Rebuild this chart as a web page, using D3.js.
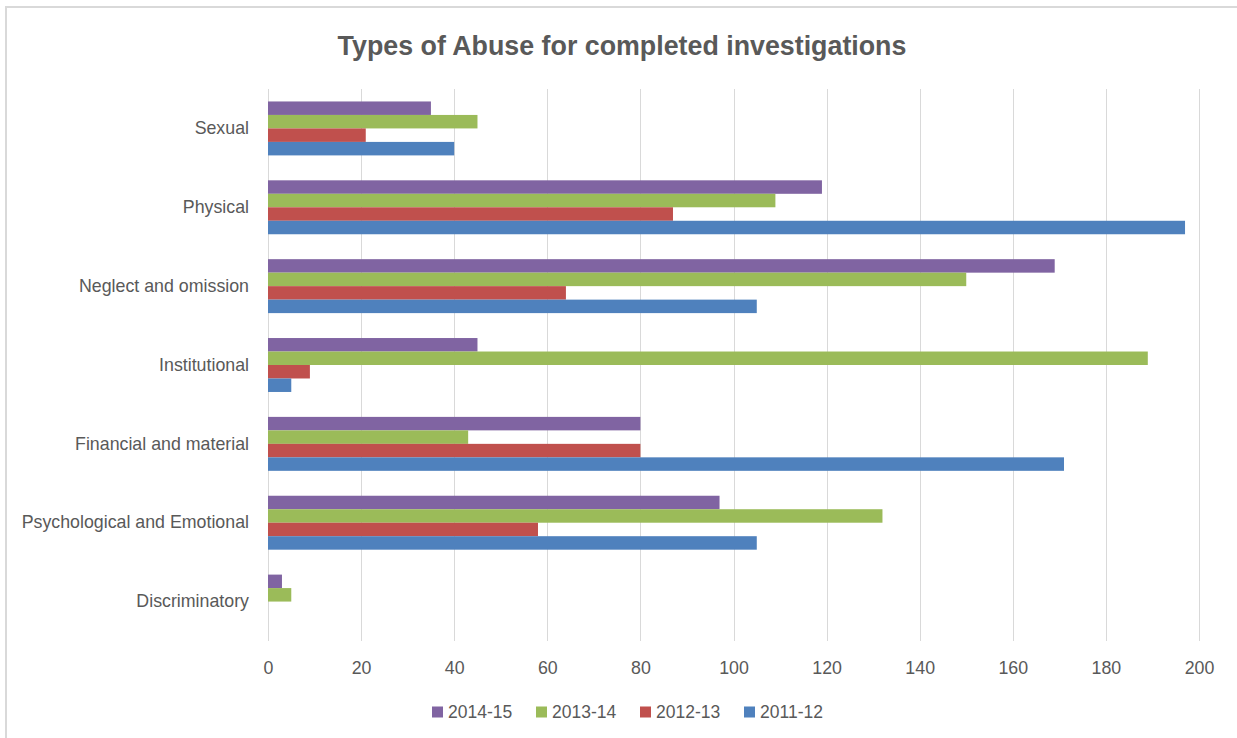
<!DOCTYPE html>
<html>
<head>
<meta charset="utf-8">
<script src="https://cdn.jsdelivr.net/npm/d3@7"></script>
<style>
  html, body { margin: 0; padding: 0; background: #ffffff; }
  svg { display: block; }
  text { font-family: "Liberation Sans", Arial, sans-serif; fill: #595959; }
</style>
</head>
<body>
<svg id="chart" width="1237" height="738"></svg>
<script>
// Abuse categories, listed top to bottom
const categories = [
  "Sexual",
  "Physical",
  "Neglect and omission",
  "Institutional",
  "Financial and material",
  "Psychological and Emotional",
  "Discriminatory"
];

// Completed investigations per year, in category order
const values2011 = [40, 197, 105, 5, 171, 105, 0];
const values2012 = [21, 87, 64, 9, 80, 58, 0];
const values2013 = [45, 109, 150, 189, 43, 132, 5];
const values2014 = [35, 119, 169, 45, 80, 97, 3];

const seriesNames = ["2014-15", "2013-14", "2012-13", "2011-12"];
const seriesValues = [values2014, values2013, values2012, values2011];
const seriesColors = ["#8064A2", "#9BBB59", "#C0504D", "#4F81BD"];

const xTicks = [0, 20, 40, 60, 80, 100, 120, 140, 160, 180, 200];

const series = seriesNames.map((name, i) => ({
  name, color: seriesColors[i], values: seriesValues[i]
}));

const svg = d3.select("#chart");
const W = 1237, H = 738;
const plot = { left: 268, right: 1199, top: 89, bottom: 641 };

// Chart frame
svg.append("rect")
  .attr("x", 6).attr("y", 7)
  .attr("width", W + 20).attr("height", H + 20)
  .attr("fill", "#ffffff")
  .attr("stroke", "#d9d9d9").attr("stroke-width", 2);

// Title
svg.append("text")
  .attr("x", 622).attr("y", 55)
  .attr("text-anchor", "middle")
  .style("font-size", "26.8px").style("font-weight", "bold")
  .text("Types of Abuse for completed investigations");

const x = d3.scaleLinear().domain([0, 200]).range([plot.left, plot.right]);
const y = d3.scaleBand().domain(categories)
  .range([plot.top, plot.bottom])
  .paddingInner(0.316).paddingOuter(0.158);
const ySub = d3.scaleBand().domain(seriesNames).range([0, y.bandwidth()]);

// Vertical gridlines
svg.append("g")
  .selectAll("line")
  .data(xTicks)
  .join("line")
  .attr("x1", d => Math.round(x(d)) + 0.5).attr("x2", d => Math.round(x(d)) + 0.5)
  .attr("y1", plot.top).attr("y2", plot.bottom)
  .attr("stroke", "#d9d9d9").attr("stroke-width", 1);

// Bars
const groups = svg.append("g")
  .selectAll("g")
  .data(categories)
  .join("g")
  .attr("transform", d => `translate(0,${y(d)})`);

groups.selectAll("rect")
  .data((c, ci) => series.map(s => ({ name: s.name, color: s.color, v: s.values[ci] })))
  .join("rect")
  .attr("x", x(0))
  .attr("y", d => ySub(d.name))
  .attr("width", d => x(d.v) - x(0))
  .attr("height", ySub.bandwidth())
  .attr("fill", d => d.color);

// Category axis labels
const yAxis = d3.axisLeft(y).tickSize(0).tickPadding(19);
const yg = svg.append("g").attr("transform", `translate(${plot.left},0)`).call(yAxis);
yg.select(".domain").remove();
yg.selectAll("text").style("font-size", "17.8px").attr("fill", "#595959");

// Value axis labels
const xAxis = d3.axisBottom(x).tickValues(xTicks).tickSize(0).tickPadding(20);
const xg = svg.append("g").attr("transform", `translate(0,${plot.bottom})`).call(xAxis);
xg.select(".domain").remove();
xg.selectAll("text").style("font-size", "17.8px").attr("fill", "#595959");

// Legend
const legendStart = 432, legendStep = 104, legendY = 712;
const legend = svg.append("g")
  .selectAll("g")
  .data(series)
  .join("g")
  .attr("transform", (d, i) => `translate(${legendStart + i * legendStep},${legendY})`);
legend.append("rect")
  .attr("x", 0).attr("y", -5.5).attr("width", 11).attr("height", 11)
  .attr("fill", d => d.color);
legend.append("text")
  .attr("x", 16).attr("y", 0).attr("dy", "0.35em")
  .style("font-size", "17.5px")
  .text(d => d.name);
</script>
</body>
</html>
